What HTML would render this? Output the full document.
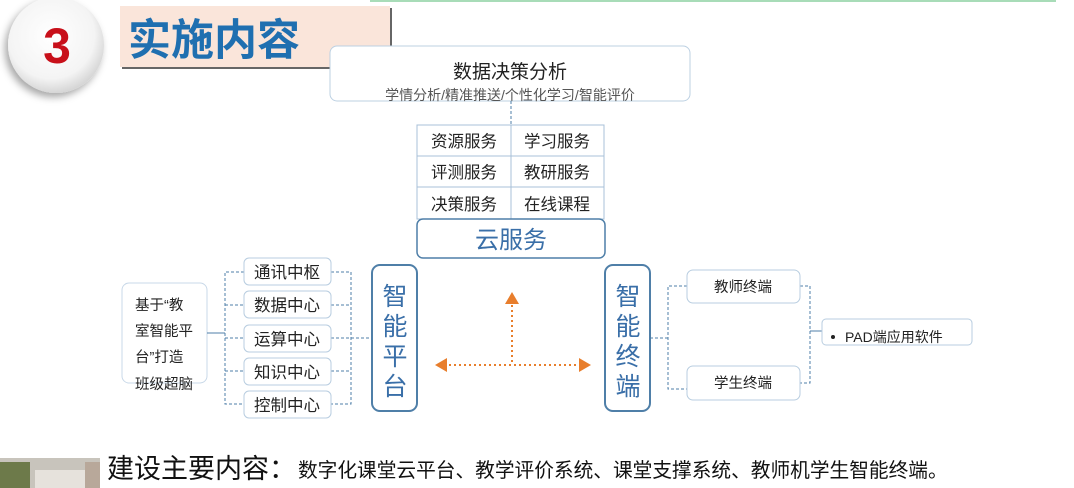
<!DOCTYPE html>
<html><head><meta charset="utf-8"><style>
html,body{margin:0;padding:0;background:#fff;}
svg{display:block;font-family:"Liberation Sans","Noto Sans CJK SC",sans-serif;}
</style></head><body>
<svg width="1074" height="488" viewBox="0 0 1074 488" xmlns="http://www.w3.org/2000/svg">
<defs>
<radialGradient id="cg" cx="45%" cy="40%" r="60%"><stop offset="0" stop-color="#ffffff"/><stop offset="0.75" stop-color="#f4f4f4"/><stop offset="1" stop-color="#d6d6d6"/></radialGradient>
<filter id="sh" x="-30%" y="-30%" width="160%" height="160%"><feDropShadow dx="-3" dy="4" stdDeviation="4" flood-color="#000" flood-opacity="0.35"/></filter>
</defs>
<line x1="370" y1="1" x2="1056" y2="1" stroke="#a8dcb8" stroke-width="2"/>
<circle cx="56" cy="45" r="48" fill="url(#cg)" filter="url(#sh)"/>
<text x="57" y="63" font-size="50" font-weight="bold" fill="#c8101a" text-anchor="middle">3</text>
<rect x="122" y="8" width="270" height="61" fill="#666"/>
<rect x="120" y="6" width="270" height="61" fill="#fae5da"/>
<text x="128" y="55" font-size="43" font-weight="bold" fill="#1f6fb0" font-family="'Noto Sans CJK SC',sans-serif">实施内容</text>

<rect x="330" y="46" width="360" height="55" rx="7" fill="#fff" stroke="#bcd0e2"/>
<text x="510" y="78" font-size="19" text-anchor="middle" fill="#222">数据决策分析</text>
<text x="510" y="100" font-size="14" text-anchor="middle" fill="#555">学情分析/精准推送/个性化学习/智能评价</text>
<line x1="511" y1="101" x2="511" y2="125" stroke="#4f7fa8" stroke-dasharray="3,2"/>

<g stroke="#a8c0d8" fill="none">
<rect x="417" y="125" width="187" height="94" fill="#fff"/>
<line x1="511" y1="125" x2="511" y2="219"/>
<line x1="417" y1="156" x2="604" y2="156"/>
<line x1="417" y1="187" x2="604" y2="187"/>
</g>
<g font-size="16.5" fill="#222" text-anchor="middle">
<text x="464" y="147">资源服务</text><text x="557" y="147">学习服务</text>
<text x="464" y="178">评测服务</text><text x="557" y="178">教研服务</text>
<text x="464" y="210">决策服务</text><text x="557" y="210">在线课程</text>
</g>
<rect x="417" y="219" width="188" height="39" rx="6" fill="#fff" stroke="#4f7fa8" stroke-width="1.5"/>
<text x="511" y="248" font-size="24" text-anchor="middle" fill="#3a6fa8">云服务</text>

<!-- left -->
<rect x="122" y="283" width="85" height="100" rx="7" fill="#fff" stroke="#c8d8e8"/>
<g font-size="14.5" fill="#222">
<text x="135" y="310">基于“教</text><text x="135" y="336">室智能平</text><text x="135" y="362">台”打造</text><text x="135" y="389">班级超脑</text>
</g>
<line x1="207" y1="333" x2="225" y2="333" stroke="#4f7fa8"/>
<g stroke="#4f7fa8" stroke-dasharray="3,2" fill="none">
<path d="M244 272 H225 V404 H244 M225 305 H244 M225 338 H244 M225 371 H244"/>
<path d="M331 272 H351 V404 H331 M331 305 H351 M331 338 H351 M331 371 H351 M351 338 H372"/>
</g>
<g fill="#fff" stroke="#b8cde0">
<rect x="244" y="258" width="87" height="27" rx="5"/>
<rect x="244" y="291" width="87" height="27" rx="5"/>
<rect x="244" y="325" width="87" height="27" rx="5"/>
<rect x="244" y="358" width="87" height="27" rx="5"/>
<rect x="244" y="391" width="87" height="27" rx="5"/>
</g>
<g font-size="16.5" fill="#222" text-anchor="middle">
<text x="287" y="278">通讯中枢</text><text x="287" y="311">数据中心</text><text x="287" y="345">运算中心</text><text x="287" y="378">知识中心</text><text x="287" y="411">控制中心</text>
</g>
<rect x="372" y="265" width="45" height="146" rx="8" fill="#fff" stroke="#4f7fa8" stroke-width="2"/>
<g font-size="25" fill="#3a6fa8" text-anchor="middle">
<text x="395" y="305">智</text><text x="395" y="335">能</text><text x="395" y="365">平</text><text x="395" y="395">台</text>
</g>

<!-- arrows -->
<g stroke="#e87e2c" stroke-width="2" stroke-dasharray="2,3" fill="none">
<line x1="444" y1="365" x2="582" y2="365"/>
<line x1="512" y1="300" x2="512" y2="365"/>
</g>
<g fill="#e87e2c">
<polygon points="435,365 447,358 447,372"/>
<polygon points="591,365 579,358 579,372"/>
<polygon points="512,292 505,304 519,304"/>
</g>

<!-- right -->
<rect x="605" y="265" width="45" height="146" rx="8" fill="#fff" stroke="#4f7fa8" stroke-width="2"/>
<g font-size="25" fill="#3a6fa8" text-anchor="middle">
<text x="628" y="305">智</text><text x="628" y="335">能</text><text x="628" y="365">终</text><text x="628" y="395">端</text>
</g>
<g stroke="#4f7fa8" stroke-dasharray="3,2" fill="none">
<path d="M650 338 H668 M687 286 H668 V389 H687"/>
<path d="M800 286 H810 V383 H800"/>
</g>
<line x1="810" y1="331" x2="822" y2="331" stroke="#4f7fa8"/>
<rect x="687" y="270" width="113" height="33" rx="6" fill="#fff" stroke="#b8cde0"/>
<rect x="687" y="366" width="113" height="34" rx="6" fill="#fff" stroke="#b8cde0"/>
<text x="743" y="292" font-size="14.5" text-anchor="middle" fill="#222">教师终端</text>
<text x="743" y="388" font-size="14.5" text-anchor="middle" fill="#222">学生终端</text>
<rect x="822" y="319" width="150" height="26" rx="4" fill="#fff" stroke="#b8cde0"/>
<circle cx="833" cy="337" r="2" fill="#222"/>
<text x="845" y="342" font-size="14" fill="#222">PAD端应用软件</text>

<!-- bottom -->
<rect x="0" y="458" width="100" height="30" fill="#c8c4bc"/>
<rect x="0" y="462" width="30" height="26" fill="#6d7a4a"/>
<rect x="35" y="470" width="65" height="18" fill="#e6e2dc"/>
<rect x="85" y="462" width="15" height="26" fill="#b8a89a"/>
<text x="107" y="478" font-size="27" fill="#111">建设主要内容：</text>
<text x="298" y="477" font-size="19.7" fill="#111">数字化课堂云平台、教学评价系统、课堂支撑系统、教师机学生智能终端。</text>
</svg>
</body></html>
